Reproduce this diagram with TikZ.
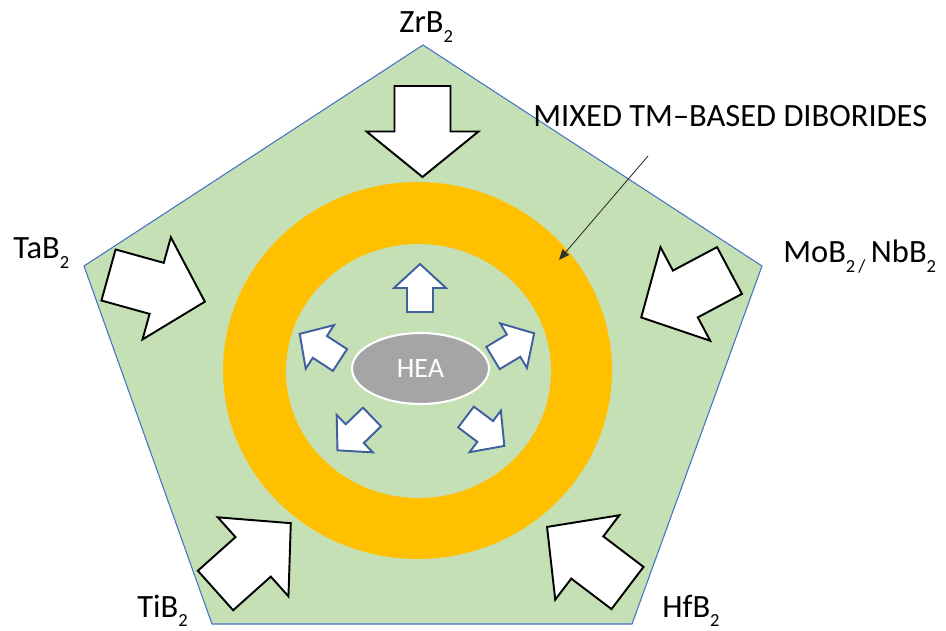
\documentclass[tikz,border=0pt]{standalone}
\usepackage{fontspec}
\setmainfont{Carlito}
\usepackage{xcolor}
\usetikzlibrary{arrows.meta,shapes.geometric}
\definecolor{leaf}{RGB}{197,224,180}
\definecolor{amber}{RGB}{255,192,0}
\definecolor{slate}{RGB}{165,165,165}
\definecolor{edgeblue}{RGB}{68,114,196}
\definecolor{arrowblue}{RGB}{62,96,160}
\newcommand{\lowsub}[1]{\raisebox{-5.5pt}{\fontsize{10.5}{11}\selectfont #1}}
% block arrow: [style]{tail}{angle}{length}{shaft half-width}
\newcommand{\blockarrow}[5][]{%
  \draw[#1,shift={#2},rotate=#3]
    (0,-#5) -- ({#4/2},-#5) -- ({#4/2},{-2*#5}) -- (#4,0)
    -- ({#4/2},{2*#5}) -- ({#4/2},#5) -- (0,#5) -- cycle;}
\tikzset{
  bigarrow/.style={draw=black,fill=white,line width=1.1pt},
  smallarrow/.style={draw=arrowblue,fill=white,line width=1.1pt},
  formula/.style={font=\fontsize{18.5}{21}\selectfont,inner sep=0pt,anchor=base west}
}

\begin{document}
\begin{tikzpicture}[x=0.02cm,y=-0.02cm,>=Latex]
  \useasboundingbox (0,0) rectangle (946,631);

  \draw[fill=leaf,draw=edgeblue,line width=0.6pt]
    (423,45) -- (762,266) -- (632,624) -- (212,624) -- (84,266) -- cycle;

  \blockarrow[bigarrow]{(422.5,86)}{-90}{91}{28}
  \blockarrow[bigarrow]{(108.5,275)}{-15.5}{100}{26.5}
  \blockarrow[bigarrow]{(729.5,270.5)}{208}{100}{26.5}
  \blockarrow[bigarrow]{(215.5,590.5)}{41.8}{101}{26.5}
  \blockarrow[bigarrow]{(627.5,588)}{142.8}{101}{26.5}

  \node[ellipse,fill=amber,minimum width=7.78cm,minimum height=7.54cm] (ring) at (417.5,370.5) {};
  \node[ellipse,fill=leaf,minimum width=5.3cm,minimum height=5.08cm] (core) at (418.5,371) {};
  \node[ellipse,fill=slate,draw=white,line width=1.2pt,minimum width=2.74cm,minimum height=1.42cm,
        inner sep=0pt,text=white,font=\fontsize{16}{18}\selectfont] (hea) at (420.5,368.5) {HEA};

  \blockarrow[smallarrow]{(420,312)}{90}{48}{13}
  \blockarrow[smallarrow]{(340,360)}{147}{48}{13}
  \blockarrow[smallarrow]{(493,358)}{31}{48}{13}
  \blockarrow[smallarrow]{(372,417)}{-136}{48}{13}
  \blockarrow[smallarrow]{(466,417)}{-37}{48}{13}

  \node[formula] (zr) at (399,33) {ZrB\lowsub{2}};
  \node[formula] (ta) at (13,259) {TaB\lowsub{2}};
  \node[formula] (mo) at (783,263) {MoB\lowsub{2\,/}\,NbB\lowsub{2}};
  \node[formula] (ti) at (137,617) {TiB\lowsub{2}};
  \node[formula] (hf) at (662,617) {HfB\lowsub{2}};
  \node[formula] (mixed) at (533,127) {MIXED TM--BASED DIBORIDES};

  \coordinate (ptr) at (648,156);
  \coordinate (ringpt) at (559,260);
  \draw[-{Triangle[length=6pt,width=5pt]},line width=0.5pt,black!80] (ptr) -- (ringpt);
\end{tikzpicture}
\end{document}
